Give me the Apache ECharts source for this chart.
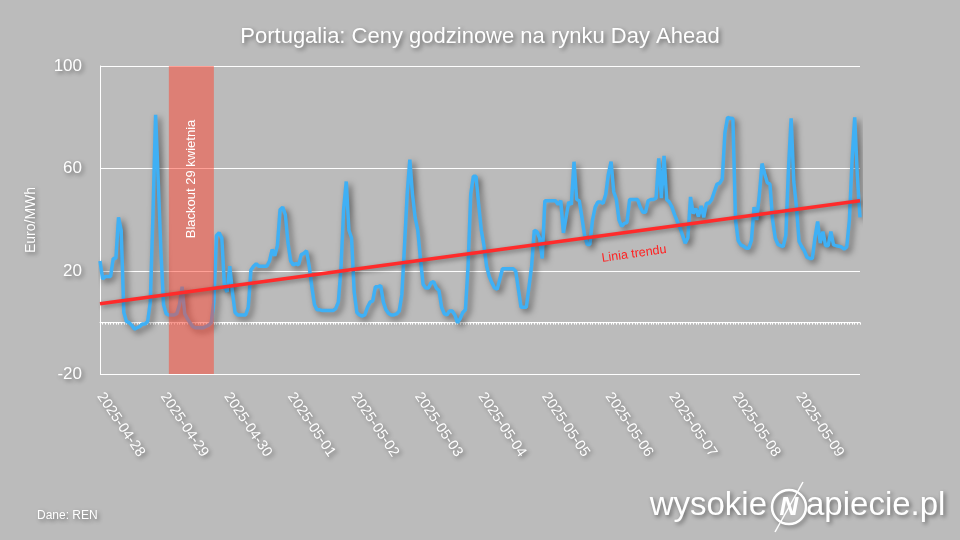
<!DOCTYPE html>
<html><head><meta charset="utf-8">
<script src="https://cdn.jsdelivr.net/npm/echarts/dist/echarts.min.js"></script>
<style>html,body{margin:0;padding:0;background:#bbbbbb}#c{width:960px;height:540px}</style>
</head><body><div id="c"></div>
<script>
const days = ['2025-04-28','2025-04-29','2025-04-30','2025-05-01','2025-05-02','2025-05-03',
              '2025-05-04','2025-05-05','2025-05-06','2025-05-07','2025-05-08','2025-05-09'];
const hours = ['00','01','02','03','04','05','06','07','08','09','10','11',
               '12','13','14','15','16','17','18','19','20','21','22','23'];
const prices = [
  24,17,18,18,18,25,25,41,36,4,0.5,0,-1,-2.5,-2,-1.5,-0.5,-0.5,0.5,8,42,81,55,28,
  7,3.5,3,3,3,3.5,7,14,3.5,1.5,0,-1.5,-2,-2,-2,-2,-1.5,-1,0,8,34,35,33,14,
  12,22,12,4,3,3,3,3,6,20.5,22,23,22,22,22,22,24,28.5,26,30,44,45,42,31,
  24,22.5,23,22.5,26.5,27,28,22,14,7,5,5,4.7,4.7,4.7,4.7,4.7,5.5,8,21,44,55,36,33,
  12,4,3,2.6,3,6,8,8.5,14,14,14.5,8,5,3.6,3,3,3.4,4.5,11,30,50,63.5,50,41,
  36,25,15,13.5,13.5,15.5,16,13.5,12.5,6,3.5,3,4.5,4.5,3,0,1.5,4,5,22,50,57,57,46,
  36,30,22,18,15.5,13.5,13,17,21,21,21,21,21,20,13,6,6,6,14,22,36,35.5,33,25,
  47.5,47.5,47.5,47.5,47.5,46,47.5,35,41,47,46,62.7,48,47.5,41,34,30.5,30.5,40,45,47,47,46.5,50,
  58,62.7,51,48,40,37.5,38.7,39,48,48,48,48,45,43,43,47.5,48,48,48.5,64,48.5,65,48,47,
  45,42,39.5,37,34,31,33,49,42.5,44.5,41.3,45.5,41,46.5,46.5,48,51,54,54.3,56,74,80,79.6,79.5,
  40,32,30.3,29.8,29,29,32,45,40,50,62,58,54.5,54,40,33,30.5,30,29.6,34,60,79.6,55,45,
  31.6,29.6,28,25.5,25,25,33,39.4,31,35.5,30,30,35.5,30.3,30,29.8,29.5,28.6,29.5,40,63,80,57,41
];
const trendValues = [7.4, 47.5];
const zeroLineValue = 0;
const blackoutRange = ['2025-04-29 02:00', '2025-04-29 19:00'];
const yTickValues = [-20, 20, 60, 100];

const categories = [];
days.forEach(d => hours.forEach(h => categories.push(d + ' ' + h + ':00')));
const firstCat = categories[0], lastCat = categories[categories.length - 1];

const FONT = "'Liberation Sans', Arial, Helvetica, sans-serif";
const sh = {textShadowColor:'rgba(0,0,0,0.45)', textShadowBlur:4, textShadowOffsetX:2, textShadowOffsetY:2};

const chart = echarts.init(document.getElementById('c'));
chart.setOption({
  backgroundColor: '#bbbbbb',
  animation: false,
  title: {
    text: 'Portugalia: Ceny godzinowe na rynku Day Ahead',
    left: 'center', top: 21,
    textStyle: Object.assign({color:'#fff', fontSize:22, fontWeight:'normal', fontFamily:FONT}, sh)
  },
  grid: {left:100, right:100, top:66, bottom:166, containLabel:false},
  xAxis: {
    type: 'category',
    data: categories,
    boundaryGap: false,
    axisLine: {show:true, lineStyle:{color:'#fff', width:1}},
    axisTick: {show:true, interval:0, length:2, lineStyle:{color:'#fff', width:1}},
    axisLabel: Object.assign({
      color:'#fff', fontSize:14.5, fontFamily:FONT, rotate:-56, margin:20,
      interval: (i) => i % 24 === 0,
      formatter: v => v.slice(0,10)
    }, sh),
    splitLine: {show:false}
  },
  yAxis: {
    type: 'value',
    min: yTickValues[0], max: yTickValues[yTickValues.length-1], interval: 40,
    name: 'Euro/MWh', nameLocation: 'middle', nameGap: 62, nameRotate: 90,
    nameTextStyle: Object.assign({color:'#fff', fontSize:14, fontFamily:FONT}, sh),
    axisLine: {show:true, lineStyle:{color:'#fff', width:1}},
    axisTick: {show:false},
    axisLabel: Object.assign({color:'#fff', fontSize:17, fontFamily:FONT, margin:18}, sh),
    splitLine: {show:true, lineStyle:{color:'#fff', width:1}}
  },
  series: [
    {
      name: 'Zero', type: 'line', z: 1, silent: true,
      data: [[firstCat, zeroLineValue], [lastCat, zeroLineValue]],
      showSymbol: false, symbol: 'none',
      lineStyle: {color:'#ffffff', width:1, type:'solid'}
    },
    {
      name: 'Cena', type: 'line', data: prices, z: 2,
      showSymbol: false, symbol: 'none',
      lineStyle: {color:'#3fb0f5', width:3.5, shadowColor:'rgba(0,0,0,0.5)', shadowBlur:6, shadowOffsetX:3, shadowOffsetY:3}
    },
    {
      name: 'Blackout', type: 'line', data: [], z: 3,
      markArea: {
        silent: true, z: 3,
        itemStyle: {color:'rgba(255,68,48,0.5)'},
        data: [[{xAxis: blackoutRange[0]}, {xAxis: blackoutRange[1]}]]
      }
    },
    {
      name: 'Trend', type: 'line', z: 4,
      data: [[firstCat, trendValues[0]], [lastCat, trendValues[1]]],
      showSymbol: false, symbol: 'none',
      lineStyle: {color:'#ff2b2b', width:3.5, shadowColor:'rgba(0,0,0,0.4)', shadowBlur:5, shadowOffsetX:2, shadowOffsetY:2}
    }
  ],
  graphic: [
    {type:'text', x:191, y:179, rotation:Math.PI/2, z:10,
     style:{text:'Blackout 29 kwietnia', fill:'#fff', fontSize:13, fontFamily:FONT, align:'center', verticalAlign:'middle'}},
    {type:'text', x:634, y:254, rotation:0.14, z:10,
     style:{text:'Linia trendu', fill:'#ff2222', fontSize:12.5, fontFamily:FONT, align:'center', verticalAlign:'middle'}},
    {type:'text', x:37, y:516, z:10,
     style:Object.assign({text:'Dane: REN', fill:'#fff', fontSize:12, fontFamily:FONT, align:'left', verticalAlign:'middle'}, sh)},
    {type:'text', x:767, y:506, z:10,
     style:Object.assign({text:'wysokie', fill:'#fff', fontSize:33, fontFamily:FONT, align:'right', verticalAlign:'middle'}, sh)},
    {type:'circle', shape:{cx:789, cy:507, r:17}, z:10,
     style:{fill:'none', stroke:'#fff', lineWidth:2.5, shadowColor:'rgba(0,0,0,0.4)', shadowBlur:4, shadowOffsetX:2, shadowOffsetY:2}},
    {type:'text', x:789, y:508, z:11,
     style:{text:'N', fill:'#fff', fontSize:26, fontWeight:'bold', fontStyle:'italic', fontFamily:FONT, align:'center', verticalAlign:'middle'}},
    {type:'line', shape:{x1:803, y1:482, x2:775, y2:532}, z:12,
     style:{stroke:'#fff', lineWidth:1.5}},
    {type:'text', x:806, y:506, z:10,
     style:Object.assign({text:'apiecie.pl', fill:'#fff', fontSize:33, fontFamily:FONT, align:'left', verticalAlign:'middle'}, sh)}
  ]
});
</script>
</body></html>
